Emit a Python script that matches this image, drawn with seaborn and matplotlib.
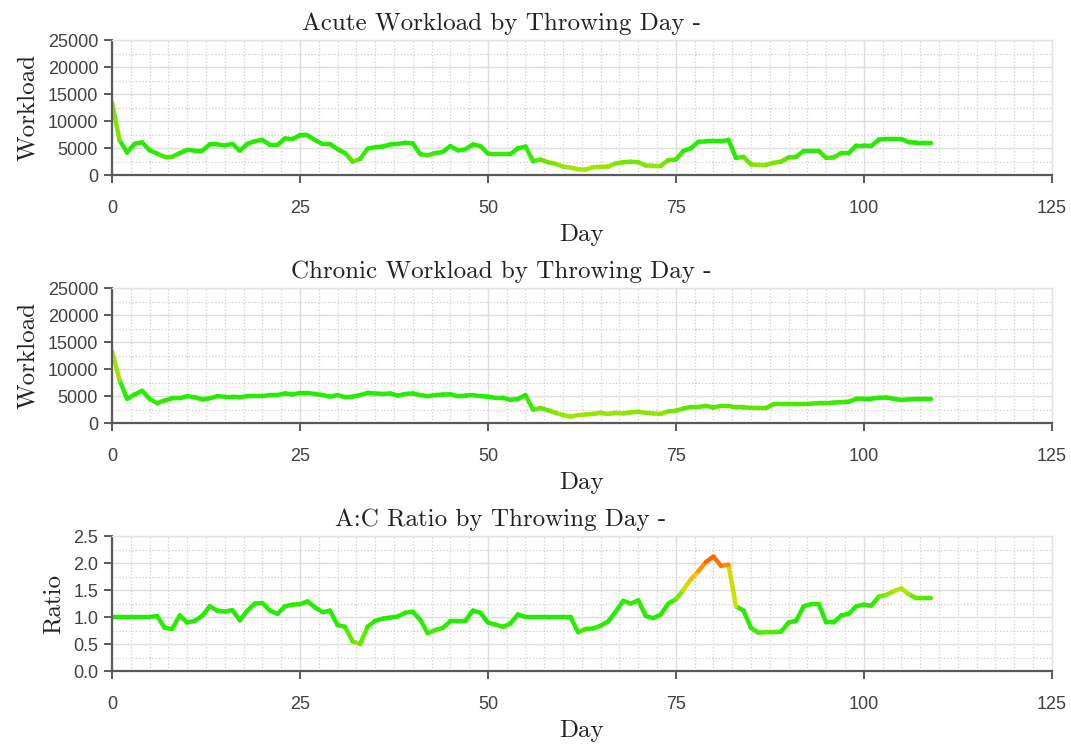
import numpy as np
import pandas as pd
import matplotlib
matplotlib.use("Agg")
import matplotlib.pyplot as plt
import seaborn as sns
from matplotlib.colors import LinearSegmentedColormap, Normalize
from matplotlib.ticker import MultipleLocator

# 투구일별 작업량 데이터
days = list(range(110))

acute = [13400, 6500, 4200, 5800, 6100, 4600, 4000, 3400, 3400, 4100,
         4700, 4550, 4550, 5700, 5700, 5500, 5800, 4550, 5800, 6300,
         6550, 5600, 5600, 6800, 6700, 7400, 7400, 6500, 5800, 5800,
         4800, 4100, 2500, 3000, 4900, 5200, 5300, 5700, 5800, 6000,
         5900, 3900, 3700, 4100, 4300, 5400, 4600, 4800, 5700, 5400,
         4000, 3900, 3900, 3900, 5000, 5300, 2600, 2900, 2400, 2100,
         1600, 1400, 1100, 1050, 1500, 1550, 1600, 2200, 2400, 2500,
         2400, 1800, 1750, 1750, 2800, 2900, 4500, 5000, 6200, 6250,
         6250, 6250, 6550, 3200, 3400, 2000, 1900, 1900, 2300, 2500,
         3300, 3400, 4500, 4500, 4500, 3200, 3300, 4100, 4100, 5500,
         5500, 5400, 6600, 6700, 6700, 6700, 6100, 6050, 6050, 6050]

chronic = [13300, 8000, 4500, 5300, 6000, 4500, 3700, 4200, 4600, 4600,
           5000, 4800, 4400, 4600, 5000, 4900, 4900, 4800, 5000, 5000,
           5000, 5200, 5200, 5500, 5300, 5600, 5600, 5400, 5200, 4900,
           5200, 4800, 4900, 5200, 5600, 5500, 5400, 5500, 5100, 5400,
           5500, 5200, 5000, 5200, 5300, 5350, 5000, 5100, 5200, 5000,
           4900, 4700, 4700, 4300, 4500, 5200, 2500, 2800, 2400, 1900,
           1500, 1200, 1500, 1600, 1700, 1900, 1700, 1900, 1800, 2000,
           2100, 1900, 1800, 1700, 2200, 2300, 2700, 3000, 3000, 3200,
           2900, 3200, 3200, 2900, 2900, 2850, 2800, 2800, 3500, 3500,
           3500, 3500, 3550, 3600, 3700, 3700, 3800, 3900, 3950, 4500,
           4550, 4550, 4700, 4750, 4500, 4300, 4400, 4450, 4450, 4450]

ratio = [1.0, 1.0, 1.0, 1.0, 1.0, 1.0, 1.02, 0.80, 0.78, 1.03,
         0.90, 0.93, 1.02, 1.20, 1.12, 1.10, 1.13, 0.94, 1.12, 1.25,
         1.26, 1.12, 1.06, 1.20, 1.23, 1.24, 1.29, 1.18, 1.09, 1.12,
         0.85, 0.82, 0.55, 0.50, 0.82, 0.93, 0.97, 0.99, 1.01, 1.08,
         1.10, 0.95, 0.70, 0.76, 0.80, 0.92, 0.92, 0.93, 1.12, 1.08,
         0.90, 0.86, 0.82, 0.88, 1.05, 1.0, 1.0, 1.0, 1.0, 1.0,
         1.0, 1.0, 0.72, 0.78, 0.79, 0.84, 0.92, 1.10, 1.30, 1.25,
         1.31, 1.02, 0.98, 1.05, 1.25, 1.33, 1.50, 1.70, 1.85, 2.02,
         2.12, 1.95, 1.97, 1.20, 1.12, 0.80, 0.71, 0.72, 0.72, 0.73,
         0.90, 0.93, 1.20, 1.24, 1.24, 0.90, 0.90, 1.03, 1.06, 1.20,
         1.23, 1.21, 1.38, 1.41, 1.48, 1.53, 1.42, 1.35, 1.35, 1.35]

titles = ["Acute Workload by Throwing Day -",
          "Chronic Workload by Throwing Day -",
          "A:C Ratio by Throwing Day -"]
ylabels = ["Workload", "Workload", "Ratio"]

# 값에 따른 색 (초록 -> 노랑 -> 빨강)
load_cmap = LinearSegmentedColormap.from_list("load", [
    (0.0, (0.75, 0.90, 0.0)), (0.06, (0.62, 0.90, 0.0)), (0.12, (0.35, 0.90, 0.0)),
    (0.18, (0.15, 0.93, 0.0)), (0.32, (0.15, 0.93, 0.0)), (0.44, (0.70, 0.88, 0.0)),
    (0.54, (0.96, 0.86, 0.0)), (1.0, (1.0, 0.3, 0.0))])
ratio_cmap = LinearSegmentedColormap.from_list("ratio", [
    (0.0, (0.85, 0.90, 0.0)), (0.2, (0.60, 0.90, 0.0)), (0.32, (0.20, 0.93, 0.0)),
    (0.40, (0.13, 0.93, 0.0)), (0.52, (0.18, 0.93, 0.0)), (0.60, (0.70, 0.90, 0.0)),
    (0.68, (0.96, 0.84, 0.0)), (0.80, (1.0, 0.50, 0.0)), (0.88, (0.95, 0.25, 0.0)),
    (1.0, (0.9, 0.1, 0.0))])


def segments(vals):
    rows = []
    for i in range(len(vals) - 1):
        c = (vals[i] + vals[i + 1]) / 2
        rows.append((i, days[i], vals[i], c))
        rows.append((i, days[i + 1], vals[i + 1], c))
    return pd.DataFrame(rows, columns=["seg", "day", "val", "c"])


sns.set_theme(style="whitegrid")
plt.rcParams["font.family"] = ["Liberation Sans", "DejaVu Sans"]

fig, axes = plt.subplots(3, 1, figsize=(10.71, 7.44), dpi=100)
fig.subplots_adjust(left=0.1046, right=0.982, top=0.946, bottom=0.098, hspace=0.836)

series = [acute, chronic, ratio]
cmaps = [load_cmap, load_cmap, ratio_cmap]
norms = [Normalize(0, 25000), Normalize(0, 25000), Normalize(0, 2.5)]
ymax = [25000, 25000, 2.5]
ystep = [5000, 5000, 0.5]

for ax, vals, cmap, norm, top, step, title, ylab in zip(
        axes, series, cmaps, norms, ymax, ystep, titles, ylabels):
    df = segments(vals)
    sns.lineplot(data=df, x="day", y="val", units="seg", estimator=None,
                 hue="c", palette=cmap, hue_norm=norm, legend=False,
                 lw=3.2, solid_capstyle="round", ax=ax)
    ax.set_xlim(0, 125)
    ax.set_ylim(0, top)
    ax.xaxis.set_major_locator(MultipleLocator(25))
    ax.xaxis.set_minor_locator(MultipleLocator(2.5))
    ax.yaxis.set_major_locator(MultipleLocator(step))
    ax.yaxis.set_minor_locator(MultipleLocator(step / 2))
    ax.grid(which="major", color="#dedede", lw=1.0, ls="-")
    ax.grid(which="minor", color="#cfcfcf", lw=0.9, ls=":")
    ax.set_facecolor("white")
    for s in ["top", "right"]:
        ax.spines[s].set_color("#e4e4e4")
        ax.spines[s].set_linewidth(1.0)
    for s in ["left", "bottom"]:
        ax.spines[s].set_color("#5a5a5a")
        ax.spines[s].set_linewidth(1.6)
    ax.tick_params(which="major", direction="out", length=6, width=1.4,
                   color="#5a5a5a", labelsize=13, labelcolor="#404040",
                   left=True, bottom=True, pad=4)
    ax.tick_params(axis="x", pad=12)
    ax.tick_params(which="minor", length=0)
    # 제목은 축 중앙보다 왼쪽에 위치
    ax.set_title(title, fontfamily="cmr10", fontsize=18, color="#222222",
                 x=0.414, pad=7)
    ax.set_xlabel("Day", fontfamily="cmr10", fontsize=18, color="#222222", labelpad=5)
    ax.set_ylabel(ylab, fontfamily="cmr10", fontsize=18, color="#222222", labelpad=6)

fig.savefig("out.png", dpi=100)
